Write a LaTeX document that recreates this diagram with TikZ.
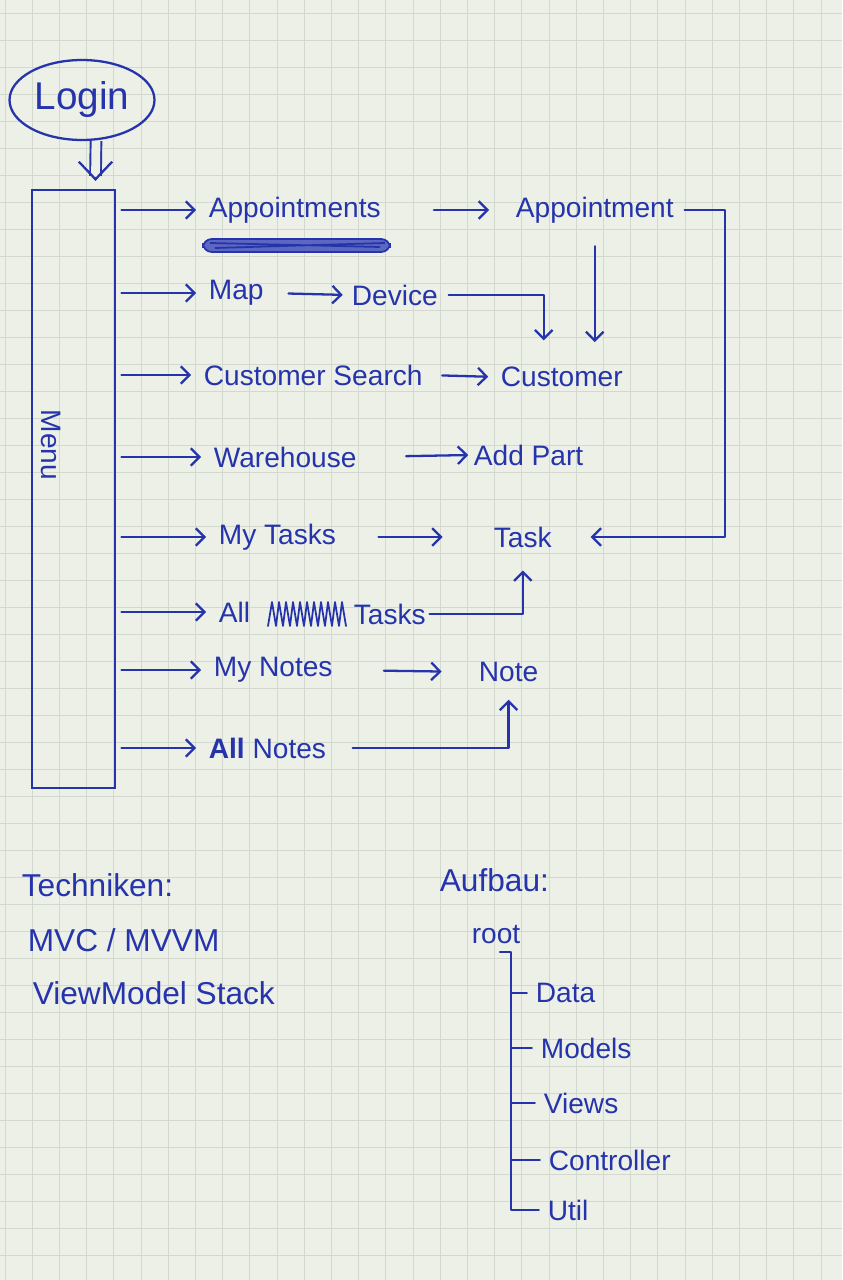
\documentclass[tikz,border=0pt]{standalone}
\usepackage{fontspec}
\setmainfont{Liberation Sans}
\usepackage{tikz}
\usetikzlibrary{arrows.meta, positioning, shapes.geometric, calc}
\definecolor{InkBlue}{RGB}{38,52,172}
\definecolor{PaperColor}{RGB}{236,240,231}
\definecolor{GridColor}{RGB}{212,217,207}
\tikzstyle{lbl} = [text=InkBlue, font=\fontsize{16}{19}\selectfont, inner sep=2pt, anchor=west]
\tikzstyle{biglbl} = [lbl, font=\fontsize{18}{21}\selectfont]
\tikzstyle{pen} = [draw=InkBlue, line width=1.3pt, line cap=round, line join=round]
\tikzstyle{arrow} = [pen, -{Straight Barb[length=5pt, width=10pt]}]

\begin{document}
\begin{tikzpicture}[x=0.02cm, y=-0.02cm]
            % paper
            \fill[PaperColor] (0,0) rectangle (842,1280);
            \useasboundingbox (0,0) rectangle (842,1280);
            \foreach \i in {0,...,30}
                \draw[GridColor, line width=0.5pt] ({5+27.2*\i},0) -- ({5+27.2*\i},1280);
            \foreach \j in {0,...,46}
                \draw[GridColor, line width=0.5pt] (0,{13+27*\j}) -- (842,{13+27*\j});

            % login and menu
            \node[ellipse, draw=InkBlue, line width=1.3pt, text=InkBlue, font=\fontsize{22}{26}\selectfont, inner sep=0pt, minimum width=2.9cm, minimum height=1.6cm] (login) at (82,100) {Login};
            \node[draw=InkBlue, line width=1.3pt, minimum width=1.66cm, minimum height=11.96cm, inner sep=0pt] (menu) at (73.5,489) {};
            \node[lbl, anchor=center, rotate=-90] (menulbl) at (51,445) {Menu};
            \draw[draw=InkBlue, line width=1.1pt, double=PaperColor, double distance=5pt] ($(login.south)+(14,0)$) -- ($(menu.north)+(22,-13)$);
            \draw[pen, -{Straight Barb[length=10pt, width=19pt]}] ($(menu.north)+(22,-9.5)$) -- ($(menu.north)+(22,-8)$);

            % screens
            \node[lbl] (appts) at (205,210) {Appointments};
            \node[lbl] (appt) at (512,210) {Appointment};
            \node[lbl] (map) at (205,293) {Map};
            \node[lbl] (device) at (348,295) {Device};
            \node[lbl] (csearch) at (200,375) {Customer Search};
            \node[lbl] (customer) at (497,377) {Customer};
            \node[lbl] (warehouse) at (210,457) {Warehouse};
            \node[lbl] (addpart) at (470,455) {Add Part};
            \node[lbl] (mytasks) at (215,537) {My Tasks};
            \node[lbl] (task) at (490,537) {Task};
            \node[lbl] (all) at (215,612) {All};
            \node[lbl] (tasks) at (350,614) {Tasks};
            \node[lbl] (mynotes) at (210,670) {My Notes};
            \node[lbl] (note) at (475,672) {Note};
            \node[lbl] (allnotes) at (205,748) {\textbf{All} Notes};

            % crossed out bits
            \filldraw[fill=InkBlue!75, draw=InkBlue, line width=1pt, rounded corners=5pt] (203,239) rectangle (390,252);
            \draw[InkBlue, line width=1pt] (210,243) -- (380,247) (215,248) -- (385,243);
            \draw[pen, line width=1pt] (268,626) \foreach \k in {0,...,10} {-- ({272+7*\k},602) -- ({276+7*\k},626)};

            % menu entries
            \foreach \n in {appts, map, csearch, warehouse, mytasks, all, mynotes, allnotes}
                \draw[arrow, shorten <=3pt, shorten >=5pt] (menu.east |- \n.west) -- (\n.west);

            % links between screens
            \draw[arrow, shorten <=28pt, shorten >=13pt] (appts.east) -- (appt.west);
            \draw[arrow, shorten <=12pt, shorten >=3pt] (map.east) -- (device.west);
            \draw[arrow, shorten <=9pt, shorten >=5pt] (csearch.east) -- (customer.west);
            \draw[arrow, shorten <=26pt, shorten >=1pt] (warehouse.east) -- (addpart.west);
            \draw[arrow, shorten <=22pt, shorten >=27pt] (mytasks.east) -- (task.west);
            \draw[arrow, shorten <=27pt, shorten >=19pt] (mynotes.east) -- (note.west);
            \draw[arrow, shorten <=4pt, shorten >=13pt] (device.east) -| ($(customer.north)+(-18,0)$);
            \draw[arrow, shorten <=11pt, shorten >=12pt] (appt.south) -- (appt.south |- customer.north);
            \coordinate (loopr) at (725,205);
            \draw[arrow, shorten <=4pt, shorten >=20pt] (appt.east) -- (appt.east -| loopr) |- (task.east);
            \draw[arrow, shorten >=11pt] (tasks.east) -| (task.south);
            \draw[arrow, shorten <=13pt, shorten >=8pt] (allnotes.east) -| (note.south);

            % notes
            \node[biglbl] (techniken) at (18,885) {Techniken:};
            \node[biglbl] (mvc) at (24,940) {MVC / MVVM};
            \node[biglbl] (stack) at (29,993) {ViewModel Stack};
            \node[biglbl] (aufbau) at (436,880) {Aufbau:};

            % folder tree
            \node[lbl] (root) at (468,935) {root};
            \node[lbl] (data) at (532,993) {Data};
            \node[lbl] (models) at (537,1048) {Models};
            \node[lbl] (views) at (540,1103) {Views};
            \node[lbl] (controller) at (545,1160) {Controller};
            \node[lbl] (util) at (544,1210) {Util};
            \coordinate (trunk) at (511,952);
            \draw[pen, shorten >=3pt] ($(trunk)+(-11,0)$) -- (trunk) |- (util.west);
            \foreach \n in {data, models, views, controller}
                \draw[pen, shorten >=3pt] (trunk |- \n.west) -- (\n.west);
        \end{tikzpicture}
\end{document}
